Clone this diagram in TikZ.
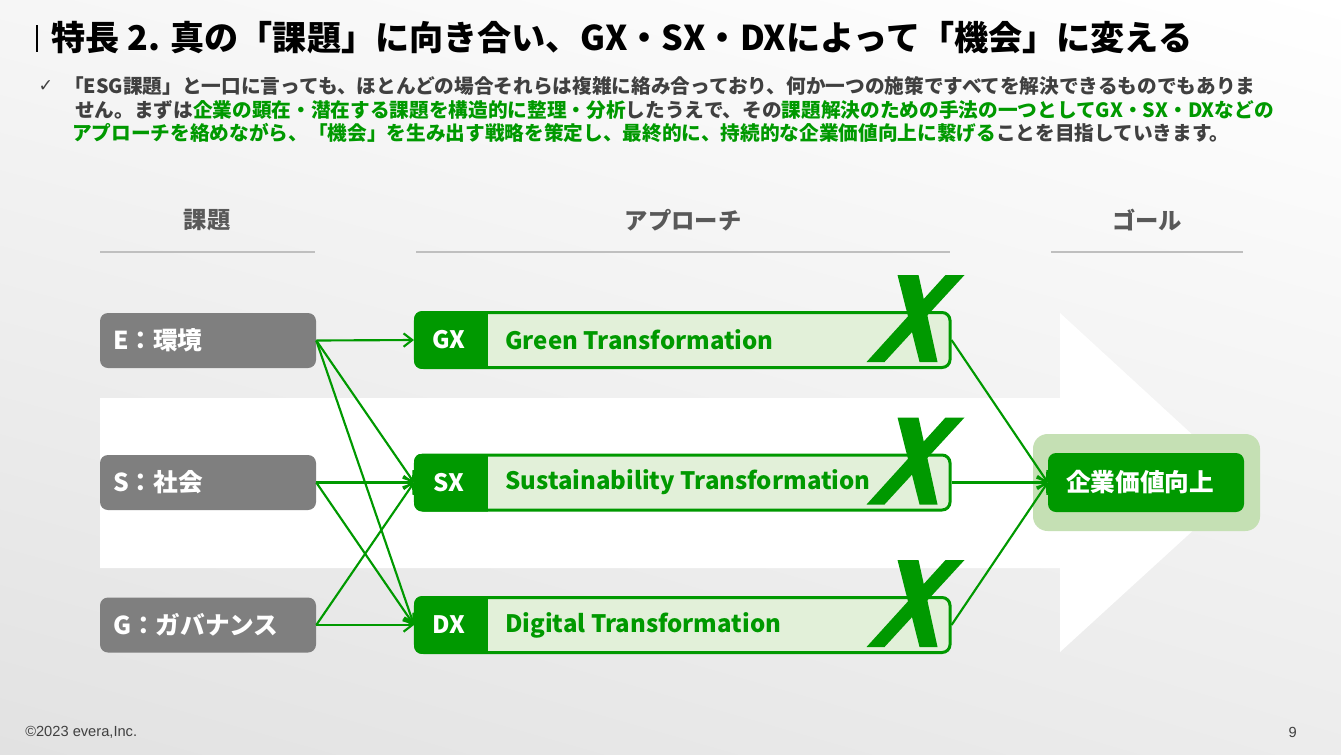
\documentclass[tikz,border=0pt]{standalone}
\usepackage{fontspec}
\setmainfont{Noto Sans CJK JP}
\newfontfamily\dejavu{DejaVu Sans}
\newfontfamily\libsans{Liberation Sans}
\usetikzlibrary{arrows.meta,shadings}
\definecolor{G}{RGB}{0,153,0}
\definecolor{Glight}{RGB}{226,240,217}
\definecolor{Gback}{RGB}{197,224,180}
\definecolor{boxgray}{RGB}{127,127,127}
\definecolor{hdrgray}{RGB}{89,89,89}
\definecolor{linegray}{RGB}{191,191,191}
\definecolor{txtgray}{RGB}{64,64,64}
\definecolor{bgUL}{RGB}{246,246,246}
\definecolor{bgLL}{RGB}{226,226,226}
\definecolor{bgLR}{RGB}{236,236,236}
\begin{document}
\begin{tikzpicture}[x=0.75pt,y=-0.75pt,
  issue/.style={fill=boxgray, rounded corners=6pt, minimum height=41.25pt, inner xsep=9.75pt, text width=142.5pt, align=left, text=white, font=\bfseries\fontsize{18.5}{21}\selectfont},
  appbox/.style={fill=Glight, draw=G, line width=2.25pt, rounded corners=6pt, minimum width=400.9pt, minimum height=41.25pt},
  applbl/.style={text=white, inner sep=0pt, font=\bfseries\fontsize{18}{22}\selectfont},
  apptxt/.style={text=G, inner sep=0pt, anchor=west, font=\bfseries\fontsize{18}{22}\selectfont},
  hdr/.style={text=hdrgray, inner sep=0pt, font=\bfseries\fontsize{17.5}{20}\selectfont},
  hdrline/.style={draw=linegray, line width=1.5pt},
  body/.style={text=txtgray, inner sep=0pt, anchor=west, font=\bfseries\fontsize{14.75}{17}\selectfont},
  arr/.style={draw=G, line width=1.6pt, -{Straight Barb[length=6.5pt,width=10pt]}},
  foot/.style={text=txtgray, inner sep=0pt, font=\libsans\fontsize{11}{13}\selectfont},
  bigx/.pic={
    \fill[G] (-54,-36) -- (-33,-36) -- (-14,51) -- (-32,51) -- cycle;
    \fill[G] (-6,-36) -- (13,-36) -- (-67,51) -- (-85,51) -- cycle;
  }
]
\useasboundingbox (0,0) rectangle (1341,754);
% background
\shade[upper left=bgUL, upper right=white, lower left=bgLL, lower right=bgLR]
  (0,0) rectangle (1341,754);
% big white arrow
\fill[white] (100,398) -- (1060,398) -- (1060,313) -- (1245,483) -- (1060,652) -- (1060,568) -- (100,568) -- cycle;

% title
\draw[line width=1.1pt, black] (37,25) -- (37,52);
\node[anchor=west, inner sep=0pt, font=\bfseries\fontsize{25.6}{30}\selectfont] (title) at (51,38)
  {特長 2. 真の「課題」に向き合い、GX・SX・DXによって「機会」に変える};

% body text
\node[text=txtgray, inner sep=0pt, font=\dejavu\fontsize{13}{15}\selectfont] (chk) at (46,86) {✓};
\node[body] (l1) at (64,86) {「ESG課題」と一口に言っても、ほとんどの場合それらは複雑に絡み合っており、何か一つの施策ですべてを解決できるものでもありま};
\node[body] (l2) at (75,110) {せん。まずは\textcolor{G}{企業の顕在・潜在する課題を構造的に整理・分析}したうえで、その\textcolor{G}{課題解決のための手法の一つとしてGX・SX・DXなどの}};
\node[body] (l3) at (72,133) {\textcolor{G}{アプローチを絡めながら、「機会」を生み出す戦略を策定し、最終的に、持続的な企業価値向上に繋げる}ことを目指していきます。};

% column headers
\node[hdr] (h1) at (207,220) {課題};
\node[hdr] (h2) at (683,220) {アプローチ};
\node[hdr] (h3) at (1147,220) {ゴール};
\draw[hdrline] (100,252) -- (315,252);
\draw[hdrline] (416,252) -- (950,252);
\draw[hdrline] (1051,252) -- (1243,252);

% issue boxes
\node[issue] (e) at (208,340.5) {E：環境};
\node[issue] (s) at (208,482.5) {S：社会};
\node[issue] (g) at (208,625) {G：ガバナンス};

% approach boxes
\foreach \nm/\yy/\lb/\tx in {gx/340/GX/Green Transformation, sx/482.5/SX/Sustainability Transformation, dx/625/DX/Digital Transformation}{
  \node[appbox] (\nm) at (682.75,\yy) {};
  \begin{scope}
    \clip[rounded corners=6pt] (\nm.south west) rectangle (\nm.north east);
    \fill[G] (\nm.south west) rectangle ([xshift=55.4pt]\nm.north west);
  \end{scope}
  \node[applbl] (\nm l) at (449,\yy) {\lb};
  \node[apptxt] (\nm t) at (505,\yy) {\tx};
}

% goal
\node[fill=Gback, rounded corners=11pt, minimum width=170.25pt, minimum height=72.75pt] (goalbg) at (1146.5,482.5) {};
\node[fill=G, rounded corners=6pt, minimum width=147pt, minimum height=44.25pt, text=white,
      font=\bfseries\fontsize{18.5}{22}\selectfont] (goal) at (1146,482.5) {企業価値向上\hspace*{9pt}};

% connectors
\draw[arr] (e.east) -- (gx.west);
\draw[arr] (e.east) -- (sx.west);
\draw[arr] (e.east) -- (dx.west);
\draw[arr] (s.east) -- (sx.west);
\draw[arr] (s.east) -- (dx.west);
\draw[arr] (g.east) -- (sx.west);
\draw[arr] (g.east) -- (dx.west);
\draw[arr] (gx.east) -- (goal.west);
\draw[arr] (sx.east) -- (goal.west);
\draw[arr] (dx.east) -- (goal.west);

% big X marks
\pic at (gx.north east) {bigx};
\pic at (sx.north east) {bigx};
\pic at (dx.north east) {bigx};

% footer
\node[foot, anchor=west] (copy) at (25,732) {©2023 evera,Inc.};
\node[foot, anchor=east] (page) at (1297,732) {9};
\end{tikzpicture}
\end{document}
